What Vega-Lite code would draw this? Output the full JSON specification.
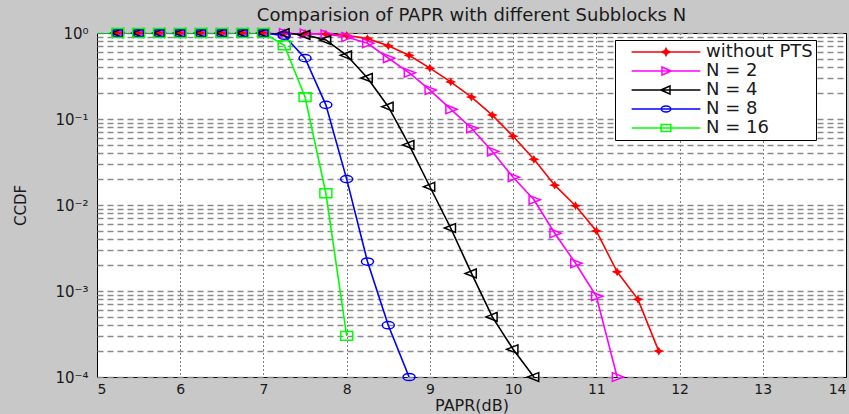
{
  "$schema": "https://vega.github.io/schema/vega-lite/v6.json",
  "autosize": "none",
  "padding": {"left": 97, "top": 33, "right": 3, "bottom": 37},
  "width": 749,
  "height": 344,
  "background": "#c8c8c8",
  "view": {"fill": "white", "stroke": "black", "strokeWidth": 1},
  "config": {"font": "DejaVu Sans"},
  "title": {"text": "Comparision of PAPR with different Subblocks N", "fontSize": 18, "fontWeight": "normal", "color": "#1a1a1a", "offset": 1, "anchor": "middle"},
  "data": {"values": [
    {"s": "without PTS", "x": 4.75, "y": 1}, {"s": "without PTS", "x": 5.25, "y": 1}, {"s": "without PTS", "x": 5.5, "y": 1}, {"s": "without PTS", "x": 5.75, "y": 1}, {"s": "without PTS", "x": 6, "y": 1}, {"s": "without PTS", "x": 6.25, "y": 1}, {"s": "without PTS", "x": 6.5, "y": 1}, {"s": "without PTS", "x": 6.75, "y": 1}, {"s": "without PTS", "x": 7, "y": 1},
    {"s": "without PTS", "x": 7.25, "y": 1}, {"s": "without PTS", "x": 7.5, "y": 0.99}, {"s": "without PTS", "x": 7.75, "y": 0.97}, {"s": "without PTS", "x": 8, "y": 0.94}, {"s": "without PTS", "x": 8.25, "y": 0.86}, {"s": "without PTS", "x": 8.5, "y": 0.71}, {"s": "without PTS", "x": 8.75, "y": 0.55}, {"s": "without PTS", "x": 9, "y": 0.39}, {"s": "without PTS", "x": 9.25, "y": 0.27}, {"s": "without PTS", "x": 9.5, "y": 0.18}, {"s": "without PTS", "x": 9.75, "y": 0.111}, {"s": "without PTS", "x": 10, "y": 0.063}, {"s": "without PTS", "x": 10.25, "y": 0.034}, {"s": "without PTS", "x": 10.5, "y": 0.017}, {"s": "without PTS", "x": 10.75, "y": 0.0098}, {"s": "without PTS", "x": 11, "y": 0.005}, {"s": "without PTS", "x": 11.25, "y": 0.00167}, {"s": "without PTS", "x": 11.5, "y": 0.0008}, {"s": "without PTS", "x": 11.75, "y": 0.0002},
    {"s": "N = 2", "x": 4.75, "y": 1}, {"s": "N = 2", "x": 5.25, "y": 1}, {"s": "N = 2", "x": 5.5, "y": 1}, {"s": "N = 2", "x": 5.75, "y": 1}, {"s": "N = 2", "x": 6, "y": 1}, {"s": "N = 2", "x": 6.25, "y": 1}, {"s": "N = 2", "x": 6.5, "y": 1}, {"s": "N = 2", "x": 6.75, "y": 1}, {"s": "N = 2", "x": 7, "y": 1},
    {"s": "N = 2", "x": 7.25, "y": 1}, {"s": "N = 2", "x": 7.5, "y": 0.985}, {"s": "N = 2", "x": 7.75, "y": 0.965}, {"s": "N = 2", "x": 8, "y": 0.9}, {"s": "N = 2", "x": 8.25, "y": 0.76}, {"s": "N = 2", "x": 8.5, "y": 0.51}, {"s": "N = 2", "x": 8.75, "y": 0.345}, {"s": "N = 2", "x": 9, "y": 0.217}, {"s": "N = 2", "x": 9.25, "y": 0.13}, {"s": "N = 2", "x": 9.5, "y": 0.078}, {"s": "N = 2", "x": 9.75, "y": 0.042}, {"s": "N = 2", "x": 10, "y": 0.021}, {"s": "N = 2", "x": 10.25, "y": 0.0115}, {"s": "N = 2", "x": 10.5, "y": 0.0047}, {"s": "N = 2", "x": 10.75, "y": 0.0021}, {"s": "N = 2", "x": 11, "y": 0.00087}, {"s": "N = 2", "x": 11.25, "y": 0.0001},
    {"s": "N = 4", "x": 4.75, "y": 1}, {"s": "N = 4", "x": 5.25, "y": 1}, {"s": "N = 4", "x": 5.5, "y": 1}, {"s": "N = 4", "x": 5.75, "y": 1}, {"s": "N = 4", "x": 6, "y": 1}, {"s": "N = 4", "x": 6.25, "y": 1}, {"s": "N = 4", "x": 6.5, "y": 1}, {"s": "N = 4", "x": 6.75, "y": 1}, {"s": "N = 4", "x": 7, "y": 1},
    {"s": "N = 4", "x": 7.25, "y": 0.995}, {"s": "N = 4", "x": 7.5, "y": 0.95}, {"s": "N = 4", "x": 7.75, "y": 0.83}, {"s": "N = 4", "x": 8, "y": 0.55}, {"s": "N = 4", "x": 8.25, "y": 0.3}, {"s": "N = 4", "x": 8.5, "y": 0.139}, {"s": "N = 4", "x": 8.75, "y": 0.05}, {"s": "N = 4", "x": 9, "y": 0.0163}, {"s": "N = 4", "x": 9.25, "y": 0.0054}, {"s": "N = 4", "x": 9.5, "y": 0.0016}, {"s": "N = 4", "x": 9.75, "y": 0.0005}, {"s": "N = 4", "x": 10, "y": 0.00021}, {"s": "N = 4", "x": 10.25, "y": 0.0001},
    {"s": "N = 8", "x": 4.75, "y": 1}, {"s": "N = 8", "x": 5.25, "y": 1}, {"s": "N = 8", "x": 5.5, "y": 1}, {"s": "N = 8", "x": 5.75, "y": 1}, {"s": "N = 8", "x": 6, "y": 1}, {"s": "N = 8", "x": 6.25, "y": 1}, {"s": "N = 8", "x": 6.5, "y": 1}, {"s": "N = 8", "x": 6.75, "y": 1}, {"s": "N = 8", "x": 7, "y": 1},
    {"s": "N = 8", "x": 7.25, "y": 0.93}, {"s": "N = 8", "x": 7.5, "y": 0.51}, {"s": "N = 8", "x": 7.75, "y": 0.146}, {"s": "N = 8", "x": 8, "y": 0.02}, {"s": "N = 8", "x": 8.25, "y": 0.0022}, {"s": "N = 8", "x": 8.5, "y": 0.0004}, {"s": "N = 8", "x": 8.75, "y": 0.0001},
    {"s": "N = 16", "x": 4.75, "y": 1}, {"s": "N = 16", "x": 5.25, "y": 1}, {"s": "N = 16", "x": 5.5, "y": 1}, {"s": "N = 16", "x": 5.75, "y": 1}, {"s": "N = 16", "x": 6, "y": 1}, {"s": "N = 16", "x": 6.25, "y": 1}, {"s": "N = 16", "x": 6.5, "y": 1}, {"s": "N = 16", "x": 6.75, "y": 1}, {"s": "N = 16", "x": 7, "y": 1},
    {"s": "N = 16", "x": 7.25, "y": 0.72}, {"s": "N = 16", "x": 7.5, "y": 0.18}, {"s": "N = 16", "x": 7.75, "y": 0.0137}, {"s": "N = 16", "x": 8, "y": 0.0003}
  ]},
  "encoding": {
    "x": {"field": "x", "type": "quantitative",
      "scale": {"domain": [5, 14], "nice": false, "zero": false},
      "axis": {"title": "PAPR(dB)", "titleFontSize": 16, "titleFontWeight": "normal", "titleColor": "#1a1a1a", "titlePadding": 1,
        "values": [5, 6, 7, 8, 9, 10, 11, 12, 13, 14], "labelFontSize": 14, "labelColor": "#1a1a1a", "labelPadding": 5,
        "ticks": false, "domain": false, "grid": true, "gridColor": "#000000", "gridDash": [1, 3], "gridWidth": 1, "gridOpacity": 1}},
    "y": {"field": "y", "type": "quantitative",
      "scale": {"type": "log", "domain": [0.0001, 1], "nice": false},
      "axis": {"title": "CCDF", "titleFontSize": 15, "titleFontWeight": "normal", "titleColor": "#1a1a1a", "titlePadding": 26,
        "values": [0.0001, 0.0002, 0.0003, 0.0004, 0.0005, 0.0006, 0.0007, 0.0008, 0.0009, 0.001, 0.002, 0.003, 0.004, 0.005, 0.006, 0.007, 0.008, 0.009, 0.01, 0.02, 0.03, 0.04, 0.05, 0.06, 0.07, 0.08, 0.09, 0.1, 0.2, 0.3, 0.4, 0.5, 0.6, 0.7, 0.8, 0.9, 1],
        "labelExpr": "datum.value == 1 ? '10⁰' : datum.value == 0.1 ? '10⁻¹' : datum.value == 0.01 ? '10⁻²' : datum.value == 0.001 ? '10⁻³' : datum.value == 0.0001 ? '10⁻⁴' : ''",
        "labelFontSize": 15, "labelColor": "#1a1a1a", "labelPadding": 9, "labelOverlap": false, "labelBound": false,
        "ticks": false, "domain": false, "grid": true, "gridColor": "#8a8a8a", "gridDash": [6, 4], "gridWidth": 1.4, "gridOpacity": 1}},
    "color": {"field": "s", "type": "nominal",
      "scale": {"domain": ["without PTS", "N = 2", "N = 4", "N = 8", "N = 16"], "range": ["#ff0000", "#ff00ff", "#000000", "#0000ff", "#00ff00"]},
      "legend": {"orient": "none", "legendX": 518, "legendY": 7, "title": "\u00a0", "titleOrient": "right", "titlePadding": 14, "titleFontSize": 10,
        "fillColor": "white", "strokeColor": "black",
        "padding": 3, "labelFontSize": 18, "labelColor": "#1a1a1a", "symbolSize": 64, "symbolStrokeWidth": 1.5, "symbolOpacity": 1,
        "symbolOffset": 39, "labelOffset": 31, "rowPadding": 1}
    }
  },
  "layer": [
    {"mark": {"type": "line", "clip": true, "strokeWidth": 1.6}},
    {"transform": [{"filter": "datum.s === 'without PTS' && datum.x >= 5"}],
     "mark": {"type": "point", "clip": false, "filled": true, "size": 64, "opacity": 1, "shape": "M-1.4,0L-0.4,-0.4L0,-1.1L0.4,-0.4L1.4,0L0.4,0.4L0,1.1L-0.4,0.4Z"},
     "encoding": {"color": {"value": "#ff0000"}}},
    {"transform": [{"filter": "datum.s === 'N = 2' && datum.x >= 5"}],
     "mark": {"type": "point", "clip": false, "filled": false, "size": 64, "strokeWidth": 1.5, "opacity": 1, "shape": "M-1.2,-1.1L1.6,0L-1.2,1.1Z"},
     "encoding": {"color": {"value": "#ff00ff"}}},
    {"transform": [{"filter": "datum.s === 'N = 4' && datum.x >= 5"}],
     "mark": {"type": "point", "clip": false, "filled": false, "size": 64, "strokeWidth": 1.5, "opacity": 1, "shape": "M1.2,-1.1L-1.6,0L1.2,1.1Z"},
     "encoding": {"color": {"value": "#000000"}}},
    {"transform": [{"filter": "datum.s === 'N = 8' && datum.x >= 5"}],
     "mark": {"type": "point", "clip": false, "filled": false, "size": 64, "strokeWidth": 1.5, "opacity": 1, "shape": "M-1.5,0A1.5,0.9,0,1,0,1.5,0A1.5,0.9,0,1,0,-1.5,0Z"},
     "encoding": {"color": {"value": "#0000ff"}}},
    {"transform": [{"filter": "datum.s === 'N = 16' && datum.x >= 5"}],
     "mark": {"type": "point", "clip": false, "filled": false, "size": 64, "strokeWidth": 1.5, "opacity": 1, "shape": "M-1.5,-1.1L1.5,-1.1L1.5,1.1L-1.5,1.1Z"},
     "encoding": {"color": {"value": "#00ff00"}}},
    {"transform": [{"filter": "false"}],
     "mark": {"type": "point", "filled": false, "size": 64, "strokeWidth": 1.5, "opacity": 1},
     "encoding": {
       "shape": {"field": "s", "type": "nominal",
         "scale": {"domain": ["without PTS", "N = 2", "N = 4", "N = 8", "N = 16"],
           "range": ["M-8.6,0L8.6,0M-1.1,0L-0.3,-0.3L0,-0.9L0.3,-0.3L1.1,0L0.3,0.3L0,0.9L-0.3,0.3Z", "M-8.6,0L8.6,0M-1,-1L1.3,0L-1,1Z", "M-8.6,0L8.6,0M1,-1L-1.3,0L1,1Z", "M-8.6,0L8.6,0M-1.2,0A1.2,0.75,0,1,0,1.2,0A1.2,0.75,0,1,0,-1.2,0Z", "M-8.6,0L8.6,0M-1.2,-0.9L1.2,-0.9L1.2,0.9L-1.2,0.9Z"]},
         "legend": {"title": null}},
       "fill": {"field": "s", "type": "nominal",
         "scale": {"domain": ["without PTS", "N = 2", "N = 4", "N = 8", "N = 16"], "range": ["#ff0000", "transparent", "transparent", "transparent", "transparent"]},
         "legend": {"title": null}}
     }}
  ]
}
